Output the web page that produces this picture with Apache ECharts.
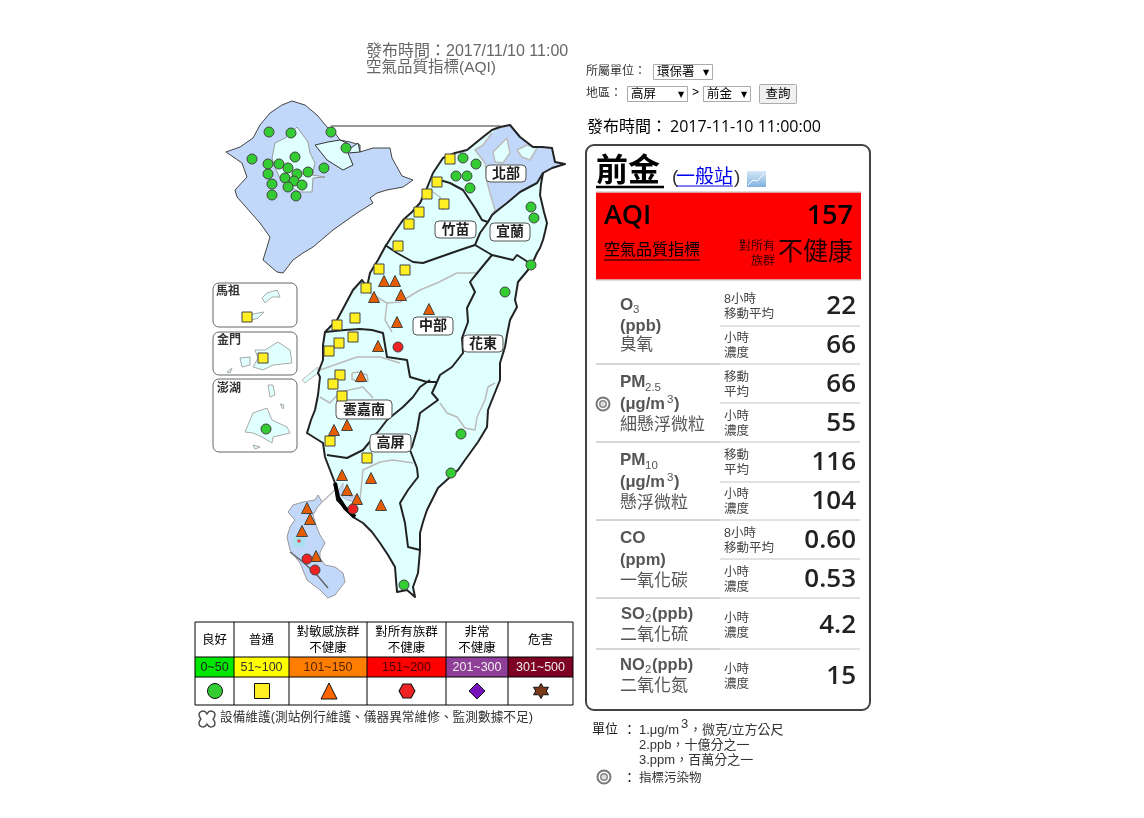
<!DOCTYPE html>
<html>
<head>
<meta charset="utf-8">
<title>AQI</title>
<script src="https://cdn.jsdelivr.net/npm/echarts@6/dist/echarts.min.js"></script>
<style>
html, body { margin: 0; padding: 0; background: #fff; }
#main { width: 1144px; height: 818px; }
</style>
</head>
<body>
<div id="main"></div>
<script>
// station readings, position (page px, through hidden axes)
const goodStations = [[269,132],[291,133],[331,132],[346,148],[252,159],[295,157],[268,164],[279,164],[288,168],[324,168],[268,174],[297,174],[308,172],[285,178],[294,181],[272,184],[288,187],[302,185],[272,195],[296,196],[463,158],[476,164],[456,176],[467,176],[470,188],[531,207],[534,218],[531,265],[505,292],[461,434],[451,473],[404,585],[266,429]]
const moderateStations = [[450,159],[437,182],[427,194],[444,204],[419,212],[409,224],[398,246],[379,269],[405,270],[366,288],[355,318],[337,325],[353,337],[339,343],[329,351],[340,375],[333,384],[342,396],[330,441],[367,458],[247,317],[263,358]]
const sensitiveStations = [[384,281],[395,281],[374,297],[401,295],[429,309],[397,322],[378,346],[361,376],[347,425],[334,430],[342,475],[371,478],[347,490],[357,499],[381,505],[307,508],[310,519],[302,531],[316,556]]
const unhealthyStations = [[398,347],[353,509],[307,559],[315,570]]
const tinyStations = [[299,541]]

// map outlines
const taiwanCoast = [[500,127],[510,125],[515,131],[520,137],[533,147],[542,147],[552,148],[555,162],[565,164],[552,168],[543,173],[541,184],[540,195],[544,212],[547,223],[545,232],[543,240],[540,248],[537,253],[533,262],[528,270],[518,282],[515,300],[517,307],[510,320],[507,335],[505,347],[500,363],[500,380],[494,395],[488,410],[487,427],[478,442],[465,460],[458,470],[450,477],[438,488],[432,500],[427,510],[423,522],[420,533],[420,550],[419,562],[418,573],[413,587],[415,597],[407,590],[397,592],[396,580],[395,567],[388,555],[380,543],[372,532],[363,523],[353,517],[345,508],[337,500],[335,483],[330,470],[325,457],[323,443],[307,433],[311,420],[315,410],[318,395],[320,377],[318,373],[323,360],[323,345],[325,332],[337,320],[345,305],[353,290],[362,280],[367,287],[370,273],[378,260],[385,247],[394,233],[403,220],[412,212],[420,203],[427,188],[433,173],[443,158],[455,153],[467,150],[483,137],[492,130]]
const northBlueArea = [[500,127],[510,125],[515,131],[520,137],[533,147],[542,147],[552,148],[555,162],[565,164],[543,173],[537,183],[520,192],[507,203],[498,210],[492,215],[488,222],[495,210],[492,200],[487,182],[485,163],[475,150],[483,145],[492,133]]
const taipeiPatch = [[493,152],[500,145],[507,138],[510,153],[503,163],[495,162]]
const keelungPatch = [[517,150],[527,145],[537,148],[530,160],[522,157]]
const kaohsiungPatch = [[343,483],[337,493],[347,500],[360,503],[357,495],[350,497],[343,490]]
const northInset = [[226,152],[240,147],[253,138],[260,125],[270,113],[282,105],[292,101],[305,105],[317,115],[327,127],[335,133],[340,140],[350,142],[360,145],[360,152],[373,148],[390,148],[392,158],[397,167],[402,176],[413,180],[403,187],[387,190],[377,193],[370,198],[373,203],[357,213],[333,230],[313,247],[303,253],[293,260],[283,273],[277,272],[263,260],[267,247],[270,237],[260,223],[237,197],[235,190],[247,177],[242,163]]
const taipeiInset = [[297,127],[308,142],[310,153],[315,163],[312,175],[325,177],[313,178],[312,192],[300,192],[290,187],[280,178],[275,168],[272,158],[275,143],[287,137]]
const keelungInset = [[315,145],[328,142],[340,140],[347,143],[348,150],[358,143],[360,152],[348,153],[353,165],[343,170],[327,160]]
const kaohsiungInset = [[318,495],[322,502],[317,508],[313,515],[317,528],[320,535],[325,543],[320,552],[320,558],[325,565],[335,567],[343,573],[345,582],[335,595],[328,598],[320,590],[307,580],[300,563],[290,550],[287,537],[290,527],[295,520],[288,512],[293,505],[303,502],[315,500]]
const kaohsiungHarbour = [[293,536],[305,536],[305,547],[293,547]]
const matsuIsles = [[[262,298],[267,293],[277,290],[280,297],[272,297],[265,303]],[[243,320],[253,314],[264,312],[258,318],[246,322]]]
const kinmenIsles = [[[255,350],[265,350],[278,342],[290,350],[292,363],[273,365],[263,370],[253,367],[258,358]],[[240,358],[250,357],[250,365],[242,367]],[[227,372],[232,368],[230,373]]]
const penghuIsles = [[[245,432],[253,413],[267,408],[272,420],[287,427],[290,433],[273,437],[272,443],[262,437],[253,433]],[[268,385],[273,385],[275,395],[270,397]],[[253,445],[260,447],[255,449]],[[280,404],[284,405],[283,409]]]
const strayIsle = [[302,380],[318,367],[318,373],[305,383]]

// boundaries
const regionBorders = [
  [[433,178],[450,183],[463,190],[475,208],[482,220],[488,222]],
  [[543,173],[537,183],[520,192],[507,203],[498,210],[492,215],[488,222],[480,233],[475,245]],
  [[385,245],[397,253],[413,262],[423,263],[440,257],[460,250],[475,245]],
  [[475,245],[492,255],[513,260],[517,255],[528,262]],
  [[492,255],[478,272],[470,282],[475,292],[467,308],[468,322],[462,338],[463,353],[452,367],[440,375],[437,382]],
  [[325,332],[345,330],[360,329],[372,330],[383,333],[387,357],[407,360],[410,377],[427,382],[437,382]],
  [[430,380],[420,387],[413,397],[403,407],[387,420],[377,433],[363,450],[347,458],[327,455]],
  [[437,382],[432,393],[438,400],[420,413],[417,430],[412,447],[410,450],[417,468],[418,477],[408,490],[400,503],[405,523],[408,547],[420,550]]
]
const countyLines = [
  [[370,293],[387,303],[400,302],[420,290],[437,283],[457,273],[477,273]],
  [[387,303],[385,320],[392,332]],
  [[320,370],[340,363],[357,357],[380,357],[400,363]],
  [[320,397],[330,403],[340,392],[363,387],[373,398]],
  [[440,403],[447,413],[457,417],[465,428],[475,430],[477,417],[485,400],[488,387],[495,383]],
  [[360,500],[363,470],[380,462],[393,460],[413,463]],
  [[430,190],[440,197],[443,210]],
  [[335,490],[322,502]],
  [[352,373],[358,372],[367,375],[368,381],[358,382],[352,379],[352,373]]
]
const blackCoast = [[335,483],[338,497],[345,508],[355,517]]
const harbourLine = [[290,552],[303,562],[317,575],[328,588]]
const bridgeLine = [[331,126],[500,126]]

// legend table
const levelNames = [['良好'],['普通'],['對敏感族群','不健康'],['對所有族群','不健康'],['非常','不健康'],['危害']]
const levelRanges = ['0~50','51~100','101~150','151~200','201~300','301~500']
const levelColors = ['#00e800','#ffff00','#ff7e00','#ff0000','#8f3f97','#7e0023']
const levelText = ['#222','#333','#520','#400','#eee','#eee']
const columnEdges = [195,234,289,367,446,508,573]
const legendMarks = [[215,691],[262,691],[329,691],[407,691],[477,691],[541,691]]

// station card
const stationName = '前金'
const aqiValue = '157'
const readingValues = ['22','66','66','55','116','104','0.60','0.53','4.2','15']
const readingCaptions = [['8小時','移動平均'],['小時','濃度'],['移動','平均'],['小時','濃度'],['移動','平均'],['小時','濃度'],['8小時','移動平均'],['小時','濃度'],['小時','濃度'],['小時','濃度']]
const readingRows = [306,345,384,423,462,501,540,579,625,676]
const pollutantNames = ['臭氧','細懸浮微粒','懸浮微粒','一氧化碳','二氧化硫','二氧化氮']

const SANS = '"Liberation Sans","Noto Sans CJK TC",sans-serif'
const CJK = '"Open Sans","Noto Sans CJK TC",sans-serif'
const CYAN = '#e0ffff'
const BLUE = '#c2d8fb'
const COAST = '#222'
const GRAY = '#bbb'

const hexagon = 'path://M5,0 L15,0 L20,9 L15,18 L5,18 L0,9 Z'
const star = 'path://M10,0 L13,5 L20,5 L17,10 L20,15 L13,15 L10,20 L7,15 L0,15 L3,10 L0,5 L7,5 Z'
const cross = 'path://M3,1 Q6,-1 8,3 Q10,-1 13,1 Q16,3 13,8 Q16,13 13,15 Q10,17 8,13 Q6,17 3,15 Q0,13 3,8 Q0,3 3,1 Z'

const shapes = [
  { pts: northInset, fill: BLUE, stroke: '#444', w: 1 },
  { pts: taipeiInset, fill: CYAN, stroke: '#999', w: 1 },
  { pts: keelungInset, fill: CYAN, stroke: '#333', w: 1 },
  { pts: taiwanCoast, fill: CYAN, stroke: 'none', w: 0 },
  { pts: northBlueArea, fill: BLUE, stroke: 'none', w: 0 },
  { pts: taipeiPatch, fill: CYAN, stroke: GRAY, w: 1.5 },
  { pts: keelungPatch, fill: CYAN, stroke: GRAY, w: 1.5 },
  { pts: kaohsiungPatch, fill: BLUE, stroke: GRAY, w: 1 },
  { pts: kaohsiungInset, fill: BLUE, stroke: '#999', w: 1 },
  { pts: kaohsiungHarbour, fill: '#a8e0ee', stroke: 'none', w: 0 },
  { pts: strayIsle, fill: CYAN, stroke: GRAY, w: 1 }
]
matsuIsles.concat(kinmenIsles, penghuIsles).forEach(p => shapes.push({ pts: p, fill: CYAN, stroke: '#aaa', w: 1 }))
countyLines.forEach(p => shapes.push({ pts: p, line: true, stroke: GRAY, w: 1.5 }))
shapes.push({ pts: northBlueArea.slice(-9), line: true, stroke: GRAY, w: 1.5 })
regionBorders.forEach(p => shapes.push({ pts: p, line: true, stroke: COAST, w: 2 }))
shapes.push({ pts: taiwanCoast.concat([taiwanCoast[0]]), line: true, stroke: COAST, w: 2 })
shapes.push({ pts: blackCoast, line: true, stroke: '#000', w: 4 })
shapes.push({ pts: harbourLine, line: true, stroke: '#666', w: 1.5 })
shapes.push({ pts: bridgeLine, line: true, stroke: '#333', w: 1 })

// page furniture
const g = []
function text(x, y, t, size, color, o) {
  o = o || {}
  g.push({
    type: 'text', x: x, y: y + 1.5, z: 10,
    style: {
      text: t, fill: color || '#000',
      font: (o.weight || 'normal') + ' ' + size + 'px ' + (o.family || CJK),
      textAlign: o.align || 'left', textVerticalAlign: 'middle'
    }
  })
}
function rect(x, y, w, h, fill, stroke, r, lw) {
  g.push({
    type: 'rect', z: fill === 'none' ? 9 : 8, shape: { x: x, y: y, width: w, height: h, r: r || 0 },
    style: { fill: fill, stroke: stroke || 'none', lineWidth: lw === undefined ? 1 : lw }
  })
}
function hline(x1, x2, y, color, lw) {
  g.push({ type: 'line', z: 9, shape: { x1: x1, y1: y, x2: x2, y2: y }, style: { stroke: color, lineWidth: lw || 1 } })
}
function vline(x, y1, y2, color, lw) {
  g.push({ type: 'line', z: 9, shape: { x1: x, y1: y1, x2: x, y2: y2 }, style: { stroke: color, lineWidth: lw || 1 } })
}
function marker(x, y, r) {
  g.push({ type: 'circle', z: 10, shape: { cx: x, cy: y, r: r }, style: { fill: '#fff', stroke: '#777', lineWidth: 2 } })
  g.push({ type: 'circle', z: 10, shape: { cx: x, cy: y, r: r * 0.5 }, style: { fill: '#ddd', stroke: '#888', lineWidth: 1.5 } })
}
function tag(x, y, w, h, t) {
  rect(x, y, w, h, '#fff', '#555', 4, 1)
  g[g.length - 1].z = 10
  text(x + w / 2, y + h / 2 - 1, t, 14, '#222', { align: 'center', weight: 'bold' })
}

// map headings
text(366, 50, '發布時間：2017/11/10 11:00', 16, '#666', { family: SANS })
text(366, 66, '空氣品質指標(AQI)', 15.5, '#666', { family: SANS })
tag(486, 165, 40, 17, '北部')
tag(435, 221, 41, 17, '竹苗')
tag(490, 223, 40, 18, '宜蘭')
tag(413, 317, 40, 18, '中部')
tag(463, 335, 40, 17, '花東')
tag(336, 400, 56, 19, '雲嘉南')
tag(370, 434, 41, 18, '高屏')
rect(213, 283, 84, 44, 'none', '#666', 6, 1)
rect(213, 332, 84, 43, 'none', '#666', 6, 1)
rect(213, 379, 84, 73, 'none', '#666', 6, 1)
text(216, 290, '馬祖', 12, '#333', { weight: 'bold' })
text(217, 339, '金門', 12, '#333', { weight: 'bold' })
text(217, 387, '澎湖', 12, '#333', { weight: 'bold' })

// legend table
levelNames.forEach((lines, i) => {
  const cx = (columnEdges[i] + columnEdges[i + 1]) / 2
  lines.forEach((l, j) => {
    const y = lines.length === 1 ? 639 : 631 + j * 16
    text(cx, y, l, 12.5, '#000', { align: 'center', family: SANS })
  })
  rect(columnEdges[i], 657, columnEdges[i + 1] - columnEdges[i], 20, levelColors[i])
  text(cx, 666, levelRanges[i], 12.5, levelText[i], { align: 'center', family: SANS })
})
columnEdges.forEach(x => vline(x, 622, 705, '#000'))
;[622, 657, 677, 705].forEach(y => hline(195, 573, y, '#000'))
text(220, 716, '設備維護(測站例行維護、儀器異常維修、監測數據不足)', 12.7, '#333', { family: SANS })

// query form
text(586, 70, '所屬單位：', 12, '#333', { family: SANS })
text(586, 92, '地區：', 12, '#333', { family: SANS })
rect(653.5, 64.5, 59, 15, '#fff', '#aaa')
text(657, 71, '環保署', 12.5, '#000', { family: SANS })
text(703, 71, '▼', 8, '#000', { family: 'DejaVu Sans' })
rect(627.5, 86.5, 60, 15, '#fff', '#aaa')
text(631, 93, '高屏', 12.5, '#000', { family: SANS })
text(678, 93, '▼', 8, '#000', { family: 'DejaVu Sans' })
text(692, 91, '>', 12, '#000', { family: SANS })
rect(703.5, 86.5, 47, 15, '#fff', '#aaa')
text(707, 93, '前金', 12.5, '#000', { family: SANS })
text(741, 93, '▼', 8, '#000', { family: 'DejaVu Sans' })
rect(759.5, 84.5, 37, 19, '#f0f0f0', '#aaa', 1)
text(778, 93, '查詢', 12.5, '#000', { align: 'center', family: SANS })
text(587, 126, '發布時間：', 16, '#000', { family: SANS })
text(670, 126, '2017-11-10 11:00:00', 16, '#000')

// card
rect(586, 145, 284, 565, '#fff', '#444', 8, 2)
text(596, 171, stationName, 32, '#000', { weight: 'bold', family: SANS })
hline(596, 664, 187, '#000', 2.5)
text(672, 176, '(', 19, '#333', { family: SANS })
text(676, 176, '一般站', 19, '#0000ee', { family: SANS })
hline(676, 733, 186, '#0000ee', 1)
text(734, 176, ')', 19, '#333', { family: SANS })
g.push({
  type: 'rect', z: 9, shape: { x: 747, y: 171, width: 19, height: 16 },
  style: { fill: new echarts.graphic.LinearGradient(0, 0, 0, 1, [{ offset: 0, color: '#d6e8f8' }, { offset: 1, color: '#7fb2e0' }]) }
})
g.push({ type: 'polyline', z: 10, shape: { points: [[748, 185], [753, 180], [757, 181], [764, 174]] }, style: { stroke: '#fff', lineWidth: 1, fill: 'none' } })
hline(596, 861, 192, '#bbb', 1)
rect(596, 192.5, 265, 87, '#ff0000')
hline(596, 861, 280, '#bbb', 1)
text(604, 215, 'AQI', 27, '#000', { weight: 600 })
text(853, 215, aqiValue, 27, '#000', { align: 'right', weight: 600 })
text(604, 249, '空氣品質指標', 16, '#000', { family: SANS })
hline(604, 700, 260, '#000', 1)
text(775, 245, '對所有', 12, '#300', { align: 'right', family: SANS })
text(775, 260, '族群', 12, '#300', { align: 'right', family: SANS })
text(853, 252, '不健康', 25, '#200', { align: 'right', family: SANS })

// card rows
readingValues.forEach((v, i) => {
  const y = readingRows[i]
  text(856, y - 1, v, 26, '#222', { align: 'right', weight: 600 })
  const cap = readingCaptions[i]
  text(724, y - 8, cap[0], 12.5, '#444', { family: SANS })
  text(724, y + 7.5, cap[1], 12.5, '#444', { family: SANS })
})
;[326, 403, 482, 559].forEach(y => hline(720, 860, y, '#c4c4c4'))
;[364, 442, 520, 598, 649].forEach(y => {
  hline(596, 720, y, '#aaa')
  hline(720, 860, y, '#c4c4c4')
})
const INK = '#555'
const bold = { weight: 'bold', family: SANS }
const plain = { family: SANS }
text(620, 304, 'O', 17, INK, bold)
text(633, 308, '3', 11.5, INK, plain)
text(620, 325, '(ppb)', 16.5, INK, bold)
text(620, 344, pollutantNames[0], 16.5, INK, plain)
text(620, 381, 'PM', 17, INK, bold)
text(645, 386, '2.5', 11.5, INK, plain)
text(620, 403, '(μg/m', 16.5, INK, bold)
text(667, 398, '3', 11.5, INK, plain)
text(674, 403, ')', 16.5, INK, bold)
text(620, 424, pollutantNames[1], 17, INK, plain)
text(620, 459, 'PM', 17, INK, bold)
text(645, 464, '10', 11.5, INK, plain)
text(620, 481, '(μg/m', 16.5, INK, bold)
text(667, 476, '3', 11.5, INK, plain)
text(674, 481, ')', 16.5, INK, bold)
text(620, 502, pollutantNames[2], 17, INK, plain)
text(620, 537, 'CO', 17, INK, bold)
text(620, 559, '(ppm)', 16.5, INK, bold)
text(620, 580, pollutantNames[3], 17, INK, plain)
text(621, 613, 'SO', 16.5, INK, bold)
text(645, 617, '2', 11.5, INK, plain)
text(652, 613, '(ppb)', 16.5, INK, bold)
text(620, 634, pollutantNames[4], 17, INK, plain)
text(620, 664, 'NO', 16.5, INK, bold)
text(645, 668, '2', 11.5, INK, plain)
text(652, 664, '(ppb)', 16.5, INK, bold)
text(620, 685, pollutantNames[5], 17, INK, plain)
marker(603, 404, 6.5)

// footnotes
text(592, 728, '單位', 13, '#222', plain)
text(623, 729, '：', 13, '#222', plain)
text(639, 729, '1.μg/m', 13, '#333', plain)
text(681, 723, '3', 13, '#333', plain)
text(689, 729, '，微克/立方公尺', 13, '#333', plain)
text(639, 744, '2.ppb，十億分之一', 13, '#333', plain)
text(639, 759, '3.ppm，百萬分之一', 13, '#333', plain)
marker(604, 777, 6.5)
text(623, 777, '：', 13, '#222', plain)
text(639, 777, '指標污染物', 12.5, '#333', plain)

function renderShape(params, api) {
  const s = shapes[params.dataIndex]
  const points = s.pts.map(p => api.coord(p))
  return {
    type: s.line ? 'polyline' : 'polygon',
    shape: { points: points },
    style: { fill: s.line ? 'none' : s.fill, stroke: s.stroke, lineWidth: s.w, lineJoin: 'round' }
  }
}
function stations(data, symbol, size, color, border) {
  return {
    type: 'scatter', data: data, symbol: symbol, symbolSize: size, z: 20, silent: true,
    itemStyle: { color: color, borderColor: border || '#444', borderWidth: 1, opacity: 1 }
  }
}

const chart = echarts.init(document.getElementById('main'))
chart.setOption({
  animation: false,
  backgroundColor: '#fff',
  grid: { left: 0, right: 0, top: 0, bottom: 0 },
  xAxis: { type: 'value', min: 0, max: 1144, show: false },
  yAxis: { type: 'value', min: 0, max: 818, inverse: true, show: false },
  graphic: { elements: g },
  series: [
    {
      type: 'custom', coordinateSystem: 'cartesian2d', clip: false, silent: true, z: 2,
      data: shapes.map((s, i) => i),
      encode: { x: -1, y: -1 },
      renderItem: renderShape
    },
    stations(goodStations, 'circle', 10, '#33cc33'),
    stations(moderateStations, 'rect', 10, '#ffee22'),
    stations(sensitiveStations, 'triangle', 11, '#e65c00'),
    stations(unhealthyStations, 'circle', 10, '#ee2222'),
    { type: 'scatter', data: tinyStations, symbol: 'rect', symbolSize: 3, z: 20, silent: true, itemStyle: { color: '#ee2222' } },
    stations([legendMarks[0]], 'circle', 15, '#33cc33', '#111'),
    stations([legendMarks[1]], 'rect', 15, '#ffee22', '#111'),
    stations([legendMarks[2]], 'triangle', 16, '#ff6600', '#111'),
    stations([legendMarks[3]], hexagon, [16, 14], '#ee2222', '#111'),
    stations([legendMarks[4]], 'diamond', 16, '#7711bb', '#111'),
    stations([legendMarks[5]], star, 15, '#7a3a1a', '#111'),
    {
      type: 'scatter', data: [[207, 719]], symbol: cross, symbolSize: 16, z: 20, silent: true,
      itemStyle: { color: '#fff', borderColor: '#222', borderWidth: 1.5 }
    }
  ]
})
</script>
</body>
</html>
